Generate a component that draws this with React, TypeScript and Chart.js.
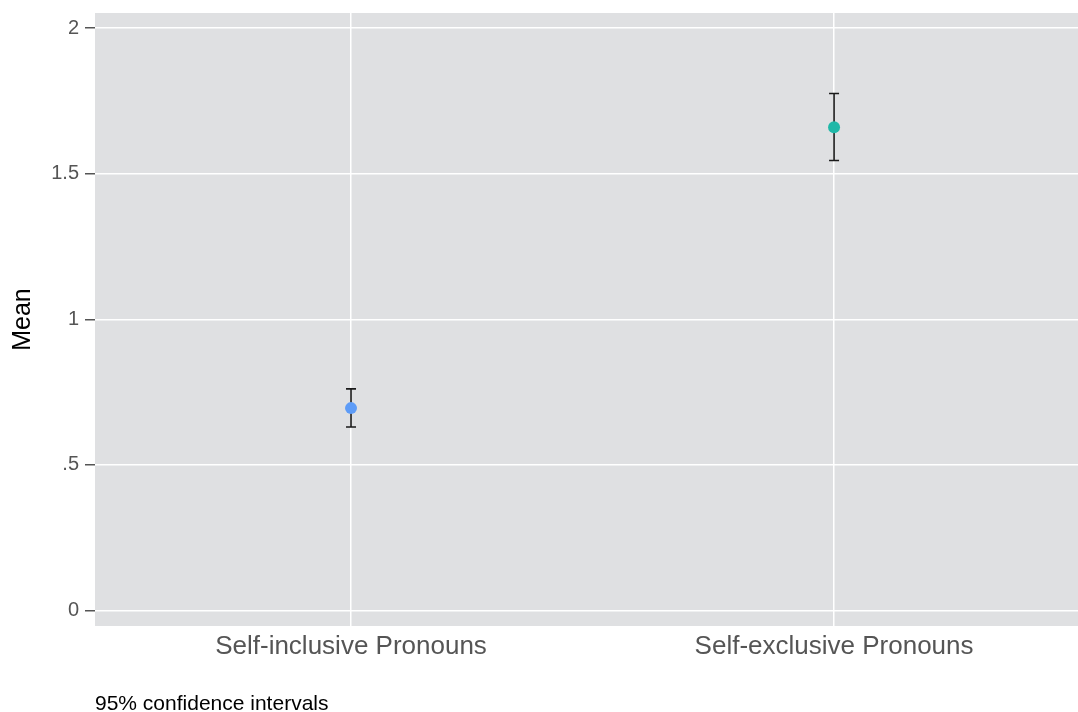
import React, { useEffect, useRef } from "react";
import { Chart, registerables } from "chart.js";

Chart.register(...registerables);

// Group means with 95% confidence bounds
const categories = ["Self-inclusive Pronouns", "Self-exclusive Pronouns"];
const means = [0.695, 1.659];
const ciLower = [0.63, 1.545];
const ciUpper = [0.761, 1.775];
const pointColors = ["#5e9cf7", "#1fb8a8"];
const yTickValues = [0, 0.5, 1, 1.5, 2];
const yTickLabels = ["0", ".5", "1", "1.5", "2"];
const noteText = "95% confidence intervals";

const FONT = "'Liberation Sans', Arial, Helvetica, sans-serif";

// Grey panel behind the plotting region
const panelBackground = {
  id: "panelBackground",
  beforeDraw(chart: any) {
    const { ctx, chartArea } = chart;
    ctx.save();
    ctx.fillStyle = "#dfe0e2";
    ctx.fillRect(
      chartArea.left,
      chartArea.top,
      chartArea.right - chartArea.left,
      chartArea.bottom - chartArea.top
    );
    ctx.restore();
  },
};

// Vertical confidence interval whiskers with caps
const errorBars = {
  id: "errorBars",
  beforeDatasetsDraw(chart: any) {
    const { ctx } = chart;
    const xs = chart.scales.x;
    const ys = chart.scales.y;
    ctx.save();
    ctx.strokeStyle = "#1a1a1a";
    ctx.lineWidth = 1.6;
    const cap = 5;
    categories.forEach((_, i) => {
      const x = xs.getPixelForValue(i + 1);
      const y0 = ys.getPixelForValue(ciLower[i]);
      const y1 = ys.getPixelForValue(ciUpper[i]);
      ctx.beginPath();
      ctx.moveTo(x, y0);
      ctx.lineTo(x, y1);
      ctx.moveTo(x - cap, y0);
      ctx.lineTo(x + cap, y0);
      ctx.moveTo(x - cap, y1);
      ctx.lineTo(x + cap, y1);
      ctx.stroke();
    });
    ctx.restore();
  },
};

export default function App() {
  const canvasRef = useRef<HTMLCanvasElement | null>(null);

  useEffect(() => {
    if (!canvasRef.current) return;
    const chart = new Chart(canvasRef.current, {
      type: "scatter",
      data: {
        datasets: [
          {
            data: means.map((m, i) => ({ x: i + 1, y: m })),
            pointBackgroundColor: pointColors,
            pointBorderColor: pointColors,
            pointRadius: 6,
            pointBorderWidth: 0,
          },
        ],
      },
      options: {
        responsive: false,
        animation: false,
        layout: {
          autoPadding: false,
          padding: { top: 13, right: 0, bottom: 0, left: 0 },
        },
        plugins: {
          legend: { display: false },
          tooltip: { enabled: false },
        },
        scales: {
          x: {
            type: "linear",
            min: 0.47,
            max: 2.505,
            afterBuildTicks: (scale: any) => {
              scale.ticks = categories.map((_, i) => ({ value: i + 1 }));
            },
            afterFit: (scale: any) => {
              scale.height = 86;
              scale.paddingLeft = 0;
              scale.paddingRight = 0;
            },
            border: { display: false },
            grid: {
              color: "#ffffff",
              lineWidth: 1.5,
              drawTicks: false,
            },
            ticks: {
              padding: 5,
              color: "#555555",
              font: { family: FONT, size: 26 },
              maxRotation: 0,
              callback: (v: any) => categories[Number(v) - 1] ?? "",
            },
          },
          y: {
            type: "linear",
            min: -0.053,
            max: 2.0515,
            afterBuildTicks: (scale: any) => {
              scale.ticks = yTickValues.map((v) => ({ value: v }));
            },
            afterFit: (scale: any) => {
              scale.width = 95;
              scale.paddingTop = 0;
              scale.paddingBottom = 0;
            },
            border: { display: false },
            grid: {
              color: "#ffffff",
              lineWidth: 1.5,
              tickColor: "#555555",
              tickLength: 10,
            },
            ticks: {
              padding: 6,
              color: "#555555",
              font: { family: FONT, size: 20 },
              callback: (v: any) => {
                const idx = yTickValues.indexOf(Number(v));
                return idx >= 0 ? yTickLabels[idx] : "";
              },
            },
            title: {
              display: true,
              text: "Mean",
              color: "#000000",
              font: { family: FONT, size: 25 },
              padding: { top: 8, bottom: 0 },
            },
          },
        },
      },
      plugins: [panelBackground, errorBars],
    });
    return () => chart.destroy();
  }, []);

  return (
    <div
      style={{
        position: "fixed",
        left: 0,
        top: 0,
        width: 1078,
        height: 712,
        background: "#ffffff",
        overflow: "hidden",
      }}
    >
      <canvas
        ref={canvasRef}
        width={1078}
        height={712}
        style={{ display: "block", width: 1078, height: 712 }}
      />
      <div
        style={{
          position: "absolute",
          left: 95,
          top: 691,
          fontFamily: FONT,
          fontSize: 21,
          lineHeight: "24px",
          color: "#000000",
          whiteSpace: "nowrap",
        }}
      >
        {noteText}
      </div>
    </div>
  );
}
